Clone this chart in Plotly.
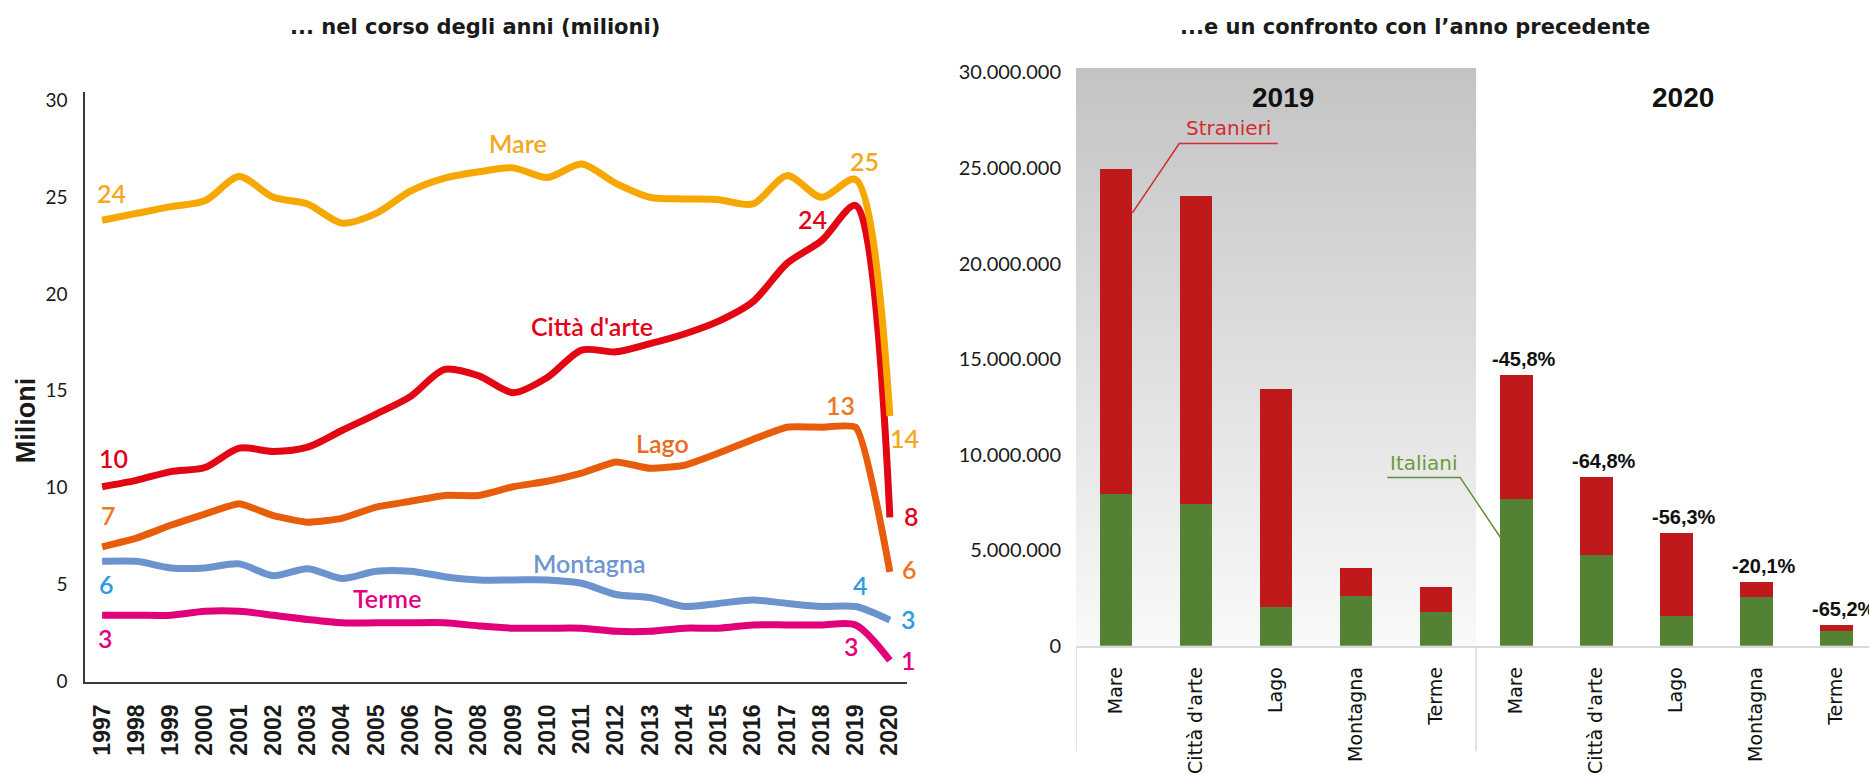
import plotly.graph_objects as go

# ---------------- DATA ----------------
years = list(range(1997, 2021))
mare = [23.8, 24.15, 24.5, 24.8, 26.05, 24.98, 24.64, 23.65, 24.15, 25.3, 25.97, 26.3,
        26.5, 26.0, 26.7, 25.7, 24.98, 24.9, 24.86, 24.64, 26.1, 24.98, 25.9, 13.7]
citta = [10.05, 10.38, 10.83, 11.04, 12.04, 11.87, 12.09, 12.95, 13.8, 14.7, 16.1, 15.77,
         14.9, 15.69, 17.1, 17.01, 17.43, 17.93, 18.59, 19.59, 21.58, 22.74, 24.56, 8.47]
lago = [6.95, 7.4, 8.06, 8.64, 9.17, 8.56, 8.22, 8.42, 9.0, 9.3, 9.6, 9.6,
        10.05, 10.33, 10.75, 11.33, 11.0, 11.16, 11.79, 12.49, 13.12, 13.12, 13.12, 5.66]
montagna = [6.2, 6.2, 5.86, 5.86, 6.07, 5.46, 5.82, 5.32, 5.69, 5.69, 5.41, 5.24,
            5.24, 5.24, 5.07, 4.49, 4.33, 3.87, 4.03, 4.21, 4.03, 3.87, 3.87, 3.17]
terme = [3.42, 3.42, 3.42, 3.62, 3.62, 3.42, 3.2, 3.03, 3.03, 3.03, 3.03, 2.87,
         2.75, 2.75, 2.75, 2.59, 2.59, 2.75, 2.75, 2.92, 2.92, 2.92, 2.92, 1.09]

series_names = ["Mare", "Città d'arte", "Lago", "Montagna", "Terme"]
labels_1997 = ["24", "10", "7", "6", "3"]
labels_2019 = ["25", "24", "13", "4", "3"]
labels_2020 = ["14", "8", "6", "3", "1"]

categories = ["Mare", "Città d'arte", "Lago", "Montagna", "Terme"]
bar_years = ["2019", "2020"]
italiani_2019 = [7950000, 7440000, 2010000, 2620000, 1760000]
stranieri_2019 = [16980000, 16100000, 11440000, 1470000, 1290000]
italiani_2020 = [7700000, 4760000, 1580000, 2530000, 790000]
stranieri_2020 = [6460000, 4050000, 4310000, 780000, 290000]
pct_2020 = ["-45,8%", "-64,8%", "-56,3%", "-20,1%", "-65,2%"]

left_title = "... nel corso degli anni (milioni)"
right_title = "...e un confronto con l\u2019anno precedente"
y_left_title = "Milioni"

# ---------------- STYLE ----------------
W, H = 1869, 774
line_cols = ["#f6a700", "#e30613", "#e85d0c", "#6b94cf", "#e2007a"]
name_cols = ["#f6a71d", "#e3001b", "#ec6a1f", "#6f95d0", "#e4007f"]
num_cols = ["#f6a71d", "#e3001b", "#ee7623", "#2d9be0", "#e4007f"]
smooths = [0.8, 0.8, 0.45, 0.8, 0.8]
shift_1997 = [(9, 27), (11, 29), (6, 32), (4, -23), (3, -23)]
shift_2019 = [(9, 19), (-43, -14), (-15, 22), (5, 22), (-4, -21)]
shift_2020 = [(15, -22), (22, 1), (20, 3), (19, 1), (19, 0)]
name_x = [2009.13, 2011.31, 2013.36, 2011.23, 2005.31]
name_y = [27.76, 18.36, 12.28, 6.13, 4.33]

LAT = "Lato, 'Open Sans', sans-serif"
DJV = "'DejaVu Sans', Verdana, sans-serif"
LIB = "'Liberation Sans', Arial, sans-serif"
Y2_TOP = 30.25e6
X2_RANGE = [-0.5, 9.41]

fig = go.Figure()

all_series = [mare, citta, lago, montagna, terme]
for k in reversed(range(5)):
    fig.add_trace(go.Scatter(
        x=years, y=all_series[k], mode="lines", name=series_names[k],
        line=dict(color=line_cols[k], width=7, shape="spline", smoothing=smooths[k]),
        xaxis="x", yaxis="y", showlegend=False, hoverinfo="skip"))

# gradient background for 2019 group (on base subplot, bars go on an overlay above it)
ncat = len(categories)
fig.add_trace(go.Scatter(
    x=[-0.5, ncat - 0.5, ncat - 0.5, -0.5, -0.5], y=[0, 0, Y2_TOP, Y2_TOP, 0],
    mode="lines", fill="toself", line=dict(width=0),
    fillgradient=dict(type="vertical", colorscale=[[0, "#fbfbfb"], [1, "#c3c3c3"]],
                      start=0, stop=Y2_TOP),
    xaxis="x2", yaxis="y2", showlegend=False, hoverinfo="skip"))

pos = list(range(2 * ncat))
fig.add_trace(go.Bar(x=pos, y=italiani_2019 + italiani_2020, name="Italiani",
                     marker=dict(color="#548235", line=dict(width=0)), width=0.41,
                     xaxis="x3", yaxis="y3", showlegend=False, hoverinfo="skip"))
fig.add_trace(go.Bar(x=pos, y=stranieri_2019 + stranieri_2020, name="Stranieri",
                     marker=dict(color="#c0191c", line=dict(width=0)), width=0.41,
                     xaxis="x3", yaxis="y3", showlegend=False, hoverinfo="skip"))

ann = []
ann.append(dict(text=left_title, x=475 / W, y=1 - 20 / H, xref="paper", yref="paper",
                xanchor="center", yanchor="middle", showarrow=False,
                font=dict(family=DJV, size=21, color="#1a1a1a", weight="bold")))
ann.append(dict(text=right_title, x=1415 / W, y=1 - 20 / H, xref="paper", yref="paper",
                xanchor="center", yanchor="middle", showarrow=False,
                font=dict(family=DJV, size=21, color="#1a1a1a", weight="bold")))
ann.append(dict(text=y_left_title, x=26 / W, y=1 - 427 / H, xref="paper", yref="paper",
                xanchor="center", yanchor="middle", textangle=-90, showarrow=False,
                font=dict(family=LIB, size=27, color="#1a1a1a", weight="bold")))

for k in range(5):
    vals = all_series[k]
    for (idx, txt, sh) in [(0, labels_1997[k], shift_1997[k]),
                           (len(years) - 2, labels_2019[k], shift_2019[k]),
                           (len(years) - 1, labels_2020[k], shift_2020[k])]:
        ann.append(dict(text=txt, x=years[idx], y=vals[idx], xref="x", yref="y",
                        xshift=sh[0], yshift=sh[1], showarrow=False,
                        xanchor="center", yanchor="middle",
                        font=dict(family=LAT, size=25, color=num_cols[k], weight=600)))
    ann.append(dict(text=series_names[k], x=name_x[k], y=name_y[k], xref="x", yref="y",
                    showarrow=False, xanchor="center", yanchor="middle",
                    font=dict(family=LAT, size=25, color=name_cols[k], weight=600)))

for g, yr in enumerate(bar_years):
    ann.append(dict(text=yr, x=g * ncat + (ncat - 1) / 2, y=28.7e6, xref="x2", yref="y2",
                    xshift=7, showarrow=False, xanchor="center", yanchor="middle",
                    font=dict(family=LIB, size=28, color="#111111", weight="bold")))
for i, p in enumerate(pct_2020):
    ann.append(dict(text=p, x=ncat + i, y=italiani_2020[i] + stranieri_2020[i],
                    xref="x2", yref="y2", xanchor="center", yanchor="bottom",
                    yshift=3, xshift=8, showarrow=False,
                    font=dict(family=LIB, size=20, color="#111111", weight="bold")))
ann.append(dict(text="Stranieri", x=1.41, y=27.1e6, xref="x2", yref="y2", showarrow=False,
                xanchor="center", yanchor="middle",
                font=dict(family=DJV, size=20, color="#d42a32")))
ann.append(dict(text="Italiani", x=3.855, y=9.55e6, xref="x2", yref="y2", showarrow=False,
                xanchor="center", yanchor="middle",
                font=dict(family=DJV, size=20, color="#6e9a3a")))

shapes = [
    dict(type="line", xref="x2", yref="paper", x0=-0.5, x1=-0.5,
         y0=(H - 768) / H, y1=(H - 659) / H, line=dict(color="#d9d9d9", width=1.5)),
    dict(type="line", xref="x2", yref="paper", x0=ncat - 0.5, x1=ncat - 0.5,
         y0=(H - 768) / H, y1=(H - 659) / H, line=dict(color="#d9d9d9", width=1.5)),
    dict(type="path", xref="x2", yref="y2",
         path="M 0.205,22650000 L 0.79,26280000 L 2.02,26280000",
         line=dict(color="#d42a32", width=1.5)),
    dict(type="path", xref="x2", yref="y2",
         path="M 4.80,5690000 L 4.30,8810000 L 3.39,8810000",
         line=dict(color="#5f8f3a", width=1.5)),
]

fig.update_layout(
    width=W, height=H, margin=dict(l=0, r=0, t=0, b=0),
    paper_bgcolor="white", plot_bgcolor="rgba(0,0,0,0)",
    barmode="stack", separators=",.",
    annotations=ann, shapes=shapes,
    xaxis=dict(domain=[85 / W, 907 / W], range=[1996.5, 2020.5], anchor="y",
               tickvals=years, ticktext=[str(y) for y in years], tickangle=-90,
               showline=True, linecolor="#3a3a3a", linewidth=1.5, ticks="",
               showgrid=False, zeroline=False, ticklabelstandoff=12,
               tickfont=dict(family=LIB, size=23, color="#1a1a1a", weight="bold")),
    yaxis=dict(domain=[1 - 696 / H, 1 - 86.7 / H], range=[0, 30.42], anchor="x",
               tickvals=[0, 5, 10, 15, 20, 25, 30], showline=True, linecolor="#3a3a3a",
               linewidth=1.5, ticks="", showgrid=False, zeroline=False,
               ticklabelstandoff=12, tickfont=dict(family=LAT, size=19, color="#1a1a1a")),
    xaxis2=dict(domain=[1076 / W, 1.0], range=X2_RANGE, anchor="y2",
                tickvals=pos, ticktext=categories * 2, tickangle=-90,
                showline=True, linecolor="#d9d9d9", linewidth=1.5, ticks="",
                showgrid=False, zeroline=False, ticklabelstandoff=12,
                tickfont=dict(family=DJV, size=19, color="#111111")),
    yaxis2=dict(domain=[1 - 659 / H, 1 - 61.7 / H], range=[0, Y2_TOP], anchor="x2",
                tickvals=[0, 5e6, 10e6, 15e6, 20e6, 25e6, 30e6], tickformat=",d",
                showline=False, showgrid=False, zeroline=False, ticks="",
                ticklabelstandoff=14, tickfont=dict(family=LAT, size=20, color="#1a1a1a")),
    xaxis3=dict(overlaying="x2", range=X2_RANGE, anchor="y3", visible=False),
    yaxis3=dict(overlaying="y2", range=[0, Y2_TOP], anchor="x3", visible=False),
)

fig.write_html("out.html", config={"displayModeBar": False},
               post_script="document.body.style.margin='0';")
